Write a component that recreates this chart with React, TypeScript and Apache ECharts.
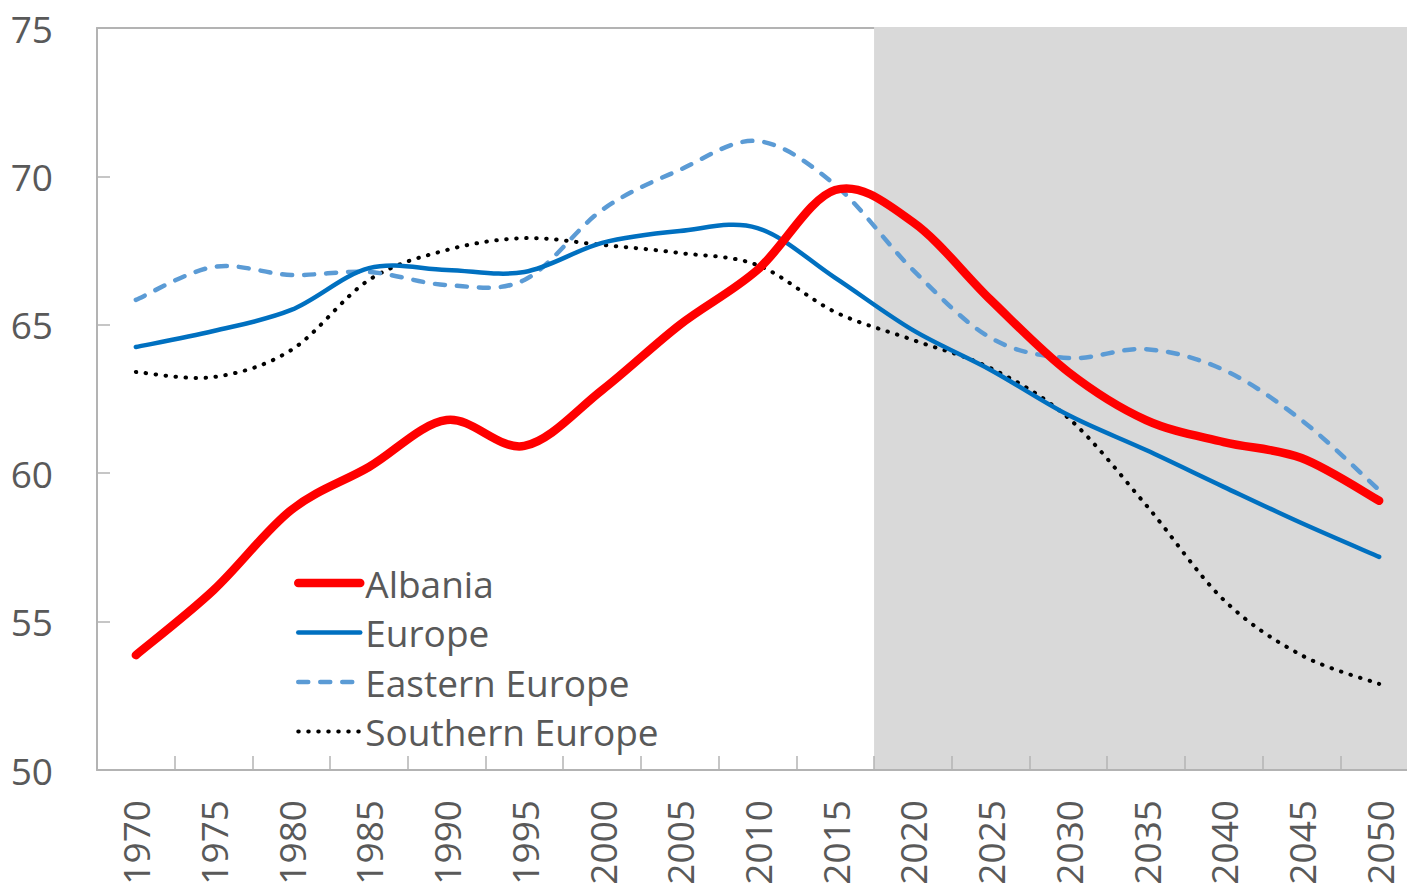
import React, { useEffect, useRef } from "react";
import * as echarts from "echarts";

const years = ["1970", "1975", "1980", "1985", "1990", "1995", "2000", "2005", "2010", "2015", "2020", "2025", "2030", "2035", "2040", "2045", "2050"];
const albania = [53.87, 56.06, 58.76, 60.21, 61.79, 60.92, 62.8, 65.0, 66.85, 69.54, 68.46, 65.84, 63.41, 61.79, 61.05, 60.51, 59.07];
const europe = [64.25, 64.79, 65.5, 66.91, 66.85, 66.78, 67.76, 68.16, 68.26, 66.58, 64.82, 63.48, 61.96, 60.78, 59.54, 58.32, 57.18];
const easternEurope = [65.84, 66.95, 66.68, 66.78, 66.34, 66.51, 68.87, 70.22, 71.19, 69.71, 66.85, 64.56, 63.88, 64.18, 63.48, 61.79, 59.43];
const southernEurope = [63.41, 63.24, 64.15, 66.51, 67.52, 67.92, 67.69, 67.42, 67.01, 65.43, 64.49, 63.54, 61.86, 58.93, 55.73, 53.87, 52.9];
const projectionStart = "2020";
const yTicks = { min: 50, max: 75, interval: 5 };

const FONT = "'Open Sans', 'Noto Sans', sans-serif";
const TEXT = "#595959";
const AXIS = "#B3B3B3";
const SHADE = "#D9D9D9";

const seriesStyles: Record<string, any> = {
  Albania: { color: "#FF0000", width: 8.5, type: "solid", dash: null },
  Europe: { color: "#0070C0", width: 4.5, type: "solid", dash: null },
  "Eastern Europe": { color: "#5B9BD5", width: 4.5, type: [10, 12], dash: [10, 12] },
  "Southern Europe": { color: "#000000", width: 4, type: [0.5, 9.5], dash: [0.5, 9.5] },
};

// Excel-like smoothed curve (Catmull-Rom as cubic Bezier) through points placed by the axes
function smoothPath(pts: number[][]): string {
  let d = `M${pts[0][0]},${pts[0][1]}`;
  for (let i = 0; i < pts.length - 1; i++) {
    const p0 = pts[i - 1] || pts[i];
    const p1 = pts[i];
    const p2 = pts[i + 1];
    const p3 = pts[i + 2] || pts[i + 1];
    const c1x = p1[0] + (p2[0] - p0[0]) / 6;
    const c1y = p1[1] + (p2[1] - p0[1]) / 6;
    const c2x = p2[0] - (p3[0] - p1[0]) / 6;
    const c2y = p2[1] - (p3[1] - p1[1]) / 6;
    d += ` C${c1x},${c1y} ${c2x},${c2y} ${p2[0]},${p2[1]}`;
  }
  return d;
}

export default function App() {
  const ref = useRef<HTMLDivElement>(null);
  useEffect(() => {
    if (!ref.current) return;
    const chart = echarts.init(ref.current, null, { renderer: "svg" });
    const startIdx = years.indexOf(projectionStart);
    const lastIdx = years.length - 1;
    const shade = years.map((_, i) => (i >= startIdx ? yTicks.max : null));
    const legendNames = ["Albania", "Europe", "Eastern Europe", "Southern Europe"];

    // legend-only line series (no data), so the legend shows line icons
    const legendSeries = (name: string) => ({
      type: "line",
      name,
      data: [],
      symbol: "none",
      lineStyle: { color: seriesStyles[name].color, width: seriesStyles[name].width, type: seriesStyles[name].type },
      itemStyle: { color: seriesStyles[name].color },
    });

    const curve = (name: string, values: number[]) => ({
      type: "custom",
      name,
      data: values.map((v, i) => [i, v]),
      encode: { x: 0, y: 1 },
      z: 5,
      silent: true,
      itemStyle: { color: seriesStyles[name].color },
      renderItem: (params: any, api: any) => {
        if (params.dataIndex !== 0) return null;
        const pts = values.map((v, i) => api.coord([i, v]));
        const st = seriesStyles[name];
        const style: any = {
          fill: "none",
          stroke: st.color,
          lineWidth: st.width,
          lineCap: "round",
          lineJoin: "round",
        };
        if (st.dash) style.lineDash = st.dash;
        return { type: "path", shape: { pathData: smoothPath(pts) }, style };
      },
    });

    chart.setOption({
      animation: false,
      textStyle: { fontFamily: FONT },
      grid: { left: 97, top: 28, width: 1321, height: 742, containLabel: false, outerBoundsMode: "none" },
      legend: {
        orient: "vertical",
        left: 289,
        top: 558,
        itemWidth: 62,
        itemHeight: 12,
        itemGap: 9.5,
        itemStyle: { opacity: 0 },
        data: legendNames.map((n) => ({
          name: n,
          itemStyle: { opacity: 0, color: "transparent" },
          lineStyle: { color: seriesStyles[n].color, width: seriesStyles[n].width, type: seriesStyles[n].type, cap: "round" },
        })),
        textStyle: { color: TEXT, fontSize: 37, lineHeight: 40, fontFamily: FONT },
      },
      xAxis: [
        {
          type: "category",
          data: years,
          boundaryGap: true,
          z: 3,
          axisLine: { lineStyle: { color: AXIS, width: 2 } },
          axisTick: { show: true, inside: true, length: 14, lineStyle: { color: AXIS, width: 1.5 } },
          axisLabel: { rotate: 90, margin: 30, color: TEXT, fontSize: 37, fontFamily: FONT, interval: 0 },
          splitLine: { show: false },
        },
        {
          type: "category",
          data: years,
          position: "top",
          z: 0,
          axisLine: { show: true, onZero: false, lineStyle: { color: AXIS, width: 2 } },
          axisTick: { show: false },
          axisLabel: { show: false },
        },
      ],
      yAxis: {
        type: "value",
        min: yTicks.min,
        max: yTicks.max,
        interval: yTicks.interval,
        z: 3,
        axisLine: { show: true, lineStyle: { color: AXIS, width: 2 } },
        axisTick: { show: true, inside: true, length: 13, lineStyle: { color: AXIS, width: 1.5 } },
        axisLabel: { margin: 44, color: TEXT, fontSize: 37, fontFamily: FONT },
        splitLine: { show: false },
      },
      series: [
        ...legendNames.map(legendSeries),
        {
          name: "Projection",
          type: "custom",
          data: shade.map((v, i) => [i, v]),
          encode: { x: 0, y: 1 },
          silent: true,
          z: 1,
          renderItem: (params: any, api: any) => {
            if (params.dataIndex !== startIdx) return null;
            const band = api.size([1, 0])[0];
            const tl = api.coord([startIdx, yTicks.max]);
            const br = api.coord([lastIdx, yTicks.min]);
            const x0 = tl[0] - band / 2;
            const x1 = br[0] + band / 2;
            return {
              type: "rect",
              shape: { x: x0, y: tl[1] - 1, width: x1 - x0, height: br[1] - tl[1] + 1 },
              style: { fill: SHADE },
            };
          },
        },
        curve("Southern Europe", southernEurope),
        curve("Eastern Europe", easternEurope),
        curve("Europe", europe),
        curve("Albania", albania),
      ],
    });
    return () => chart.dispose();
  }, []);
  return (
    <div
      ref={ref}
      style={{ position: "fixed", left: 0, top: 0, width: 1407, height: 889, background: "#ffffff" }}
    />
  );
}
